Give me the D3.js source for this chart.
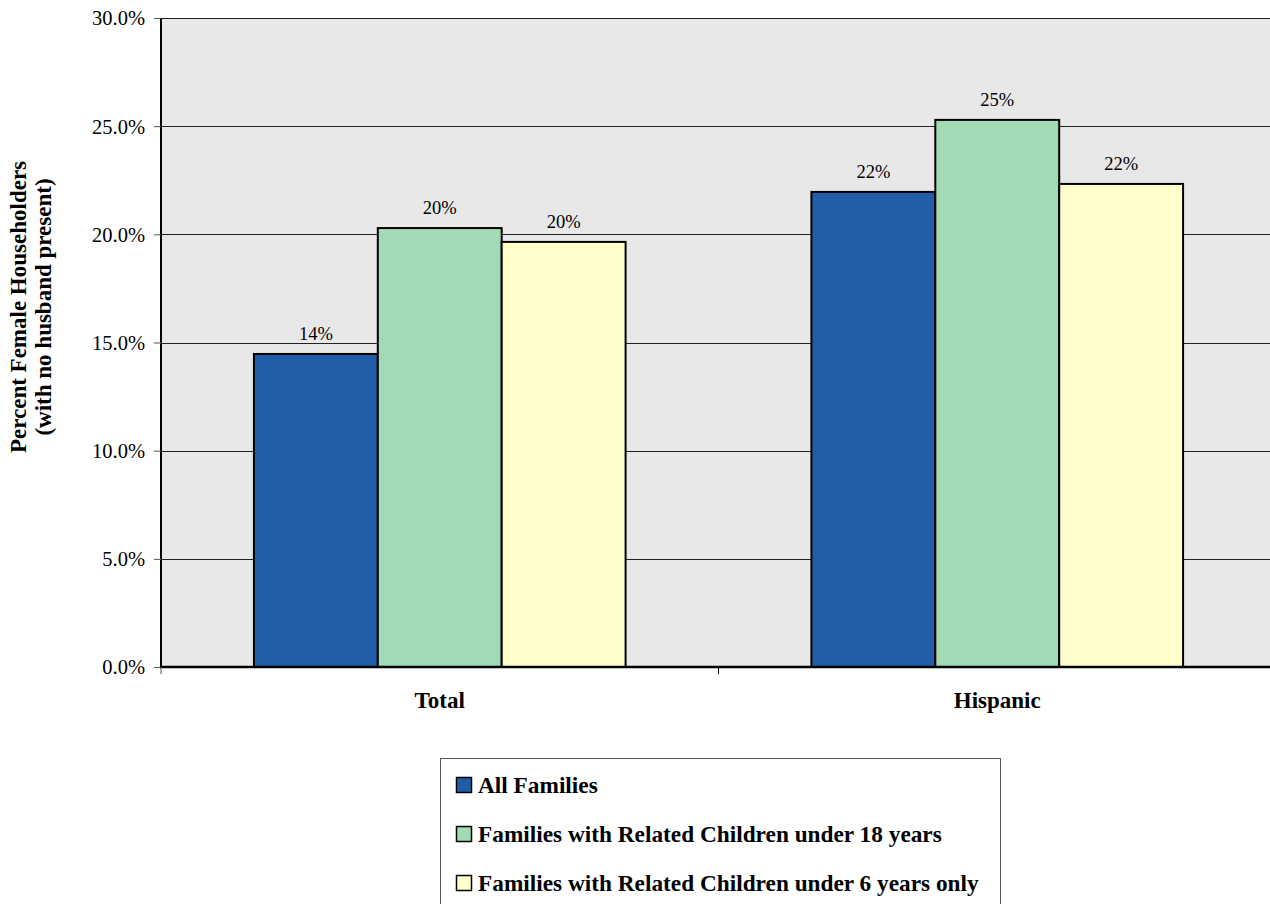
<!DOCTYPE html>
<html><head><meta charset="utf-8">
<script src="https://cdn.jsdelivr.net/npm/d3@7"></script>
<style>html,body{margin:0;padding:0;background:#fff;overflow:hidden}</style>
</head><body>
<svg id="c" width="1270" height="904"></svg>
<script>
const categories = ["Total", "Hispanic"];
const seriesNames = ["All Families", "Families with Related Children under 18 years", "Families with Related Children under 6 years only"];
const allFamilies = [0.1447, 0.2196];
const under18 = [0.2029, 0.2529];
const under6 = [0.1965, 0.2233];
const seriesColors = ["#225ea8", "#a1dab4", "#ffffcc"];
const yTicks = [0, 0.05, 0.10, 0.15, 0.20, 0.25, 0.30];
const yTitle = ["Percent Female Householders", "(with no husband present)"];

const series = [allFamilies, under18, under6];
const svg = d3.select("#c");
const font = "'Liberation Serif','Times New Roman',serif";
const L = 161, R = 1276, T = 18, B = 667;

const x0 = d3.scaleBand().domain(categories).range([L, R]).paddingInner(0).paddingOuter(0);
const barW = x0.bandwidth() / (3 + 1.5);
const y = d3.scaleLinear().domain([0, 0.30]).range([B, T]);

svg.append("rect").attr("x", L).attr("y", T).attr("width", R - L).attr("height", B - T).attr("fill", "#e8e8e8");

// gridlines
svg.append("g").selectAll("line").data(yTicks.filter(d => d > 0)).join("line")
  .attr("x1", L).attr("x2", R).attr("y1", d => Math.round(y(d)) + 0.5).attr("y2", d => Math.round(y(d)) + 0.5)
  .attr("stroke", "#222").attr("stroke-width", 1);

// bars
categories.forEach((c, ci) => {
  const gx = x0(c) + x0.bandwidth() / 2 - 1.5 * barW;
  series.forEach((s, si) => {
    const v = s[ci];
    svg.append("rect").attr("x", gx + si * barW).attr("y", y(v)).attr("width", barW).attr("height", B - y(v))
      .attr("fill", seriesColors[si]).attr("stroke", "#000").attr("stroke-width", 2);
    svg.append("text").attr("x", gx + si * barW + barW / 2).attr("y", y(v) - 14)
      .attr("text-anchor", "middle").attr("font-family", font).attr("font-size", 18.5).attr("fill", "#000")
      .text(d3.format(".0%")(v));
  });
});

// y axis
const yAxis = d3.axisLeft(y).tickValues(yTicks).tickFormat(d3.format(".1%")).tickSize(7).tickPadding(9);
const ga = svg.append("g").attr("transform", `translate(${L},0)`).call(yAxis);
ga.select(".domain").attr("stroke", "#000").attr("stroke-width", 2).attr("d", `M0,${T}V${B}`);
ga.selectAll(".tick line").attr("stroke", "#555");
ga.selectAll(".tick text").attr("font-family", font).attr("font-size", 20.5).attr("fill", "#000").attr("dy", "0.34em");

// x axis
svg.append("line").attr("x1", L - 1).attr("x2", R).attr("y1", B).attr("y2", B).attr("stroke", "#000").attr("stroke-width", 2.5);
svg.append("line").attr("x1", L).attr("x2", L).attr("y1", B).attr("y2", B + 7).attr("stroke", "#555");
svg.append("line").attr("x1", x0(categories[1])).attr("x2", x0(categories[1])).attr("y1", B).attr("y2", B + 7).attr("stroke", "#000");
categories.forEach(c => {
  svg.append("text").attr("x", x0(c) + x0.bandwidth() / 2).attr("y", 708)
    .attr("text-anchor", "middle").attr("font-family", font).attr("font-size", 23).attr("font-weight", "bold").text(c);
});

// y title
const yt = svg.append("g").attr("transform", `translate(0,307) rotate(-90)`);
yTitle.forEach((t, i) => yt.append("text").attr("x", 0).attr("y", 26 + i * 25)
  .attr("text-anchor", "middle").attr("font-family", font).attr("font-size", 23).attr("font-weight", "bold").text(t));

// legend
svg.append("rect").attr("x", 440.5).attr("y", 758.5).attr("width", 560).attr("height", 160)
  .attr("fill", "#fff").attr("stroke", "#555").attr("stroke-width", 1);
seriesNames.forEach((n, i) => {
  const cy = 784.5 + i * 49;
  svg.append("rect").attr("x", 456.5).attr("y", cy - 7).attr("width", 15).attr("height", 15)
    .attr("fill", seriesColors[i]).attr("stroke", "#000").attr("stroke-width", 1.5);
  svg.append("text").attr("x", 478).attr("y", cy + 8).attr("font-family", font).attr("font-size", 23.3)
    .attr("font-weight", "bold").text(n);
});
</script>
</body></html>
